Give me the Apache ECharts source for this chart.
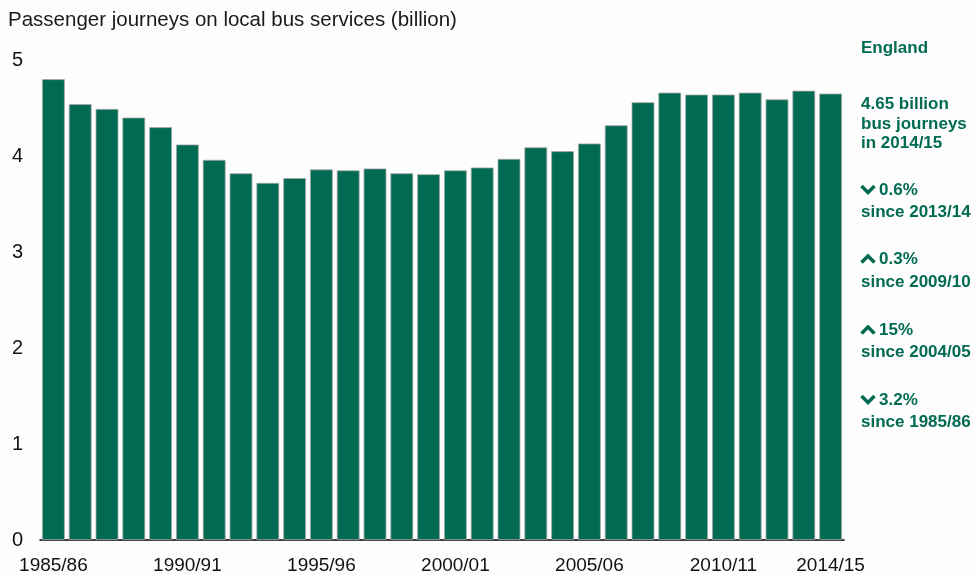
<!DOCTYPE html>
<html>
<head>
<meta charset="utf-8">
<script src="https://cdn.jsdelivr.net/npm/echarts@6/dist/echarts.min.js"></script>
<style>
html,body{margin:0;padding:0;background:#fdfdfd;}
#chart{width:974px;height:575px;}
</style>
</head>
<body>
<div id="chart"></div>
<script>
const categories = ["1985/86","1986/87","1987/88","1988/89","1989/90","1990/91","1991/92","1992/93","1993/94","1994/95",
  "1995/96","1996/97","1997/98","1998/99","1999/00","2000/01","2001/02","2002/03","2003/04","2004/05",
  "2005/06","2006/07","2007/08","2008/09","2009/10","2010/11","2011/12","2012/13","2013/14","2014/15"];
const journeys = [4.80,4.54,4.49,4.40,4.30,4.12,3.96,3.82,3.72,3.77,
  3.86,3.85,3.87,3.82,3.81,3.85,3.88,3.97,4.09,4.05,
  4.13,4.32,4.56,4.66,4.64,4.64,4.66,4.59,4.68,4.65];
const yTicks = [0,1,2,3,4,5];
const labelledIdx = [0,5,10,15,20,25,29];
const notes = [
  {text:"England", y:48},
  {text:"4.65 billion", y:104},
  {text:"bus journeys", y:124},
  {text:"in 2014/15", y:143},
  {text:"0.6%", y:190, chev:"down"},
  {text:"since 2013/14", y:212},
  {text:"0.3%", y:259, chev:"up"},
  {text:"since 2009/10", y:282},
  {text:"15%", y:330, chev:"up"},
  {text:"since 2004/05", y:352},
  {text:"3.2%", y:400, chev:"down"},
  {text:"since 1985/86", y:422}
];
const green = "#006a52";
const chart = echarts.init(document.getElementById('chart'));
const graphics = [{
  type:'text', x:8, y:20,
  style:{text:"Passenger journeys on local bus services (billion)", font:'20.5px "Liberation Sans", Arial, sans-serif', fill:'#1a1a1a', verticalAlign:'middle'}
}];
notes.forEach(n => {
  const x = n.chev ? 879 : 861;
  graphics.push({type:'text', x:x, y:n.y,
    style:{text:n.text, font:'bold 17px "Liberation Sans", Arial, sans-serif', fill:green, verticalAlign:'middle'}});
  if (n.chev === 'down') {
    graphics.push({type:'polyline', shape:{points:[[861.5,n.y-4],[868,n.y+2.5],[874.5,n.y-4]]},
      style:{stroke:green, lineWidth:3.5, fill:null}});
  } else if (n.chev === 'up') {
    graphics.push({type:'polyline', shape:{points:[[861.5,n.y+3.5],[868,n.y-3],[874.5,n.y+3.5]]},
      style:{stroke:green, lineWidth:3.5, fill:null}});
  }
});
chart.setOption({
  animation:false,
  backgroundColor:'#fdfdfd',
  grid:{left:40, right:130, top:60, bottom:33, containLabel:false},
  xAxis:{
    type:'category', data:categories,
    axisLine:{lineStyle:{color:'#000', width:1.5}},
    axisTick:{show:false},
    axisLabel:{
      interval:(i)=>labelledIdx.indexOf(i)>=0,
      fontSize:19, color:'#111', margin:16,
      fontFamily:'"Liberation Sans", Arial, sans-serif'
    }
  },
  yAxis:{
    type:'value', min:yTicks[0], max:yTicks[yTicks.length-1], interval:1,
    splitLine:{show:false}, axisLine:{show:false}, axisTick:{show:false},
    axisLabel:{fontSize:20, color:'#111', margin:17, align:'right',
      fontFamily:'"Liberation Sans", Arial, sans-serif'}
  },
  series:[{
    type:'bar', data:journeys, barCategoryGap:'15%',
    itemStyle:{color:green, borderColor:'#a8a8a8', borderWidth:0.8}
  }],
  graphic:graphics
});
</script>
</body>
</html>
